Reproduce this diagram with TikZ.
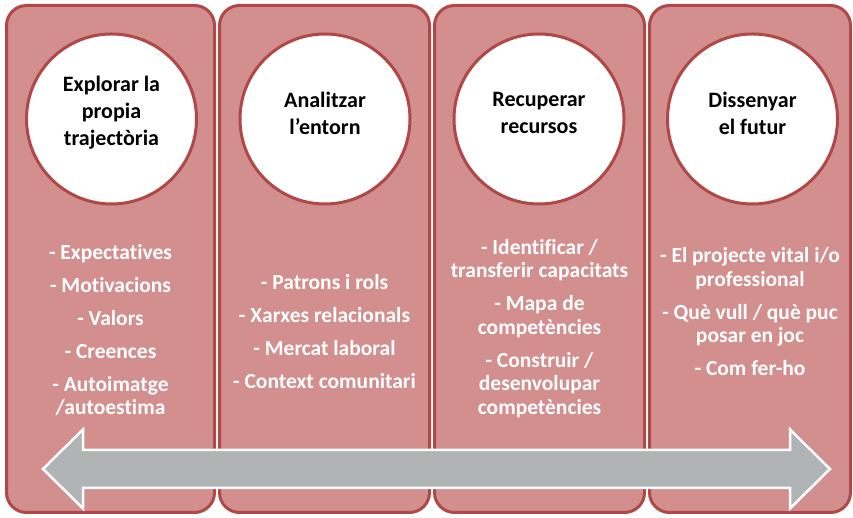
\documentclass[tikz,border=0pt]{standalone}
\usepackage{fontspec}
\setmainfont{Carlito}[Ligatures={NoCommon}]
\definecolor{colfill}{HTML}{D38E8E}
\definecolor{colline}{HTML}{B04848}
\definecolor{arrgray}{HTML}{B1B4B4}
\begin{document}
\begin{tikzpicture}[x=1pt,y=1pt,
  col/.style={draw=colline, line width=3pt, fill=colfill, rounded corners=20pt, minimum height=507pt, inner sep=0pt},
  disc/.style={circle, draw=colline, line width=3pt, fill=white, minimum size=170pt, inner sep=0pt},
  title/.style={font=\bfseries\fontsize{22}{27}\selectfont, align=center, text=black},
  items/.style={font=\bfseries\fontsize{21.5}{23.5}\selectfont, align=center, text=white},
  bigarrow/.style={fill=arrgray, draw=white, line width=2.5pt, line join=miter}]
\useasboundingbox (0,0) rectangle (853,518);
% columns
\node[col, minimum width=208pt] (k1) at (110.5,259) {};
\node[col, minimum width=210pt] (k2) at (324.5,259) {};
\node[col, minimum width=210pt] (k3) at (539.5,259) {};
\node[col, minimum width=201pt] (k4) at (750,259) {};
% circles
\node[disc] (o1) at (111.5,399) {};
\node[disc] (o2) at (325,399) {};
\node[disc] (o3) at (539,399) {};
\node[disc] (o4) at (752.5,399) {};
\node[title] (t1) at (111.5,405) {Explorar la\\propia\\trajectòria};
\node[title] (t2) at (325,405) {Analitzar\\l’entorn};
\node[title] (t3) at (539,405) {Recuperar\\recursos};
\node[title] (t4) at (752.5,405) {Dissenyar\\el futur};
% lists
\node[items] (l1) at (110.5,188) {- Expectatives\\[9.5pt]- Motivacions\\[9.5pt]- Valors\\[9.5pt]- Creences\\[9.5pt]- Autoimatge\\/autoestima};
\node[items] (l2) at (324.5,186.5) {- Patrons i rols\\[9.5pt]- Xarxes relacionals\\[9.5pt]- Mercat laboral\\[9.5pt]- Context comunitari};
\node[items] (l3) at (539.5,189.5) {- Identificar /\\transferir capacitats\\[9.5pt]- Mapa de\\competències\\[9.5pt]- Construir /\\desenvolupar\\competències};
\node[items] (l4) at (750,206) {- El projecte vital i/o\\professional\\[9.5pt]- Què vull / què puc\\posar en joc\\[9.5pt]- Com fer-ho};
% double arrow
\draw[bigarrow] (43,49) -- (83,88.5) -- (83,68) -- (790,68) -- (790,88.5) -- (830,49)
  -- (790,9.5) -- (790,30) -- (83,30) -- (83,9.5) -- cycle;
\end{tikzpicture}
\end{document}
